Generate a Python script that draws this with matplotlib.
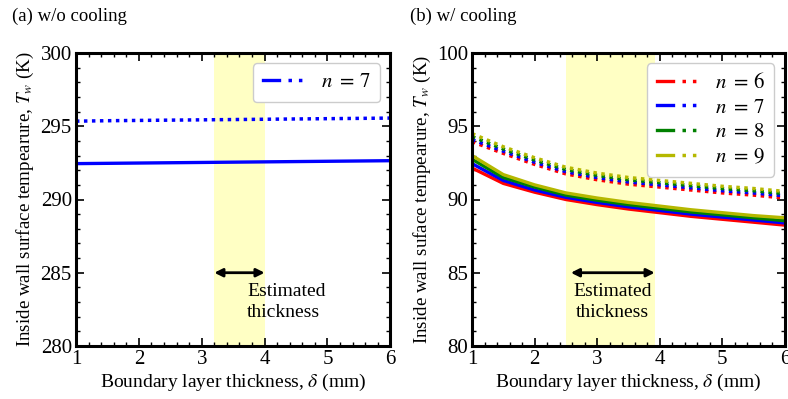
import numpy as np
import matplotlib.pyplot as plt
from matplotlib.lines import Line2D
from matplotlib.legend_handler import HandlerTuple
from matplotlib.ticker import MultipleLocator

plt.rcParams['font.family'] = ['Liberation Serif', 'DejaVu Serif']
plt.rcParams['mathtext.fontset'] = 'stix'
plt.rcParams['font.size'] = 13

# boundary layer thickness (mm)
delta = [1.0, 1.5, 2.0, 2.5, 3.0, 3.5, 4.0, 4.5, 5.0, 5.5, 6.0]

# (a) without cooling, n = 7
tw_a_solid = [292.45, 292.47, 292.49, 292.51, 292.53, 292.55, 292.57, 292.59, 292.61, 292.63, 292.65]
tw_a_dot = [295.35, 295.38, 295.40, 295.42, 295.44, 295.46, 295.48, 295.50, 295.52, 295.54, 295.56]

# (b) with cooling
n_values = [6, 7, 8, 9]
colors = ['red', 'blue', 'green', '#b5b800']
tw_b_solid = [
    [92.15, 91.10, 90.50, 90.00, 89.65, 89.35, 89.10, 88.85, 88.65, 88.45, 88.25],
    [92.45, 91.30, 90.65, 90.15, 89.80, 89.50, 89.25, 89.00, 88.80, 88.60, 88.40],
    [92.75, 91.50, 90.85, 90.30, 89.95, 89.65, 89.40, 89.15, 88.95, 88.75, 88.55],
    [93.00, 91.70, 91.00, 90.45, 90.10, 89.80, 89.55, 89.30, 89.10, 88.90, 88.75],
]
tw_b_dot = [
    [93.95, 93.15, 92.40, 91.75, 91.35, 91.05, 90.85, 90.65, 90.45, 90.30, 90.10],
    [94.10, 93.30, 92.55, 91.90, 91.50, 91.20, 91.00, 90.80, 90.60, 90.45, 90.25],
    [94.30, 93.45, 92.70, 92.05, 91.65, 91.35, 91.15, 90.95, 90.75, 90.60, 90.40],
    [94.50, 93.60, 92.85, 92.20, 91.80, 91.50, 91.30, 91.10, 90.90, 90.75, 90.55],
]

span_a = (3.2, 4.0)
span_b = (2.5, 3.92)

DOT = (0, (1, 1.3))


def style_axes(ax, ylo, yhi, ylabel):
    ax.set_xlim(1, 6)
    ax.set_ylim(ylo, yhi)
    ax.xaxis.set_major_locator(MultipleLocator(1))
    ax.xaxis.set_minor_locator(MultipleLocator(0.2))
    ax.yaxis.set_major_locator(MultipleLocator(5))
    ax.yaxis.set_minor_locator(MultipleLocator(1))
    ax.tick_params(which='both', direction='in', top=True, right=True, labelsize=15)
    ax.tick_params(which='major', length=6, width=1.2, pad=3)
    ax.tick_params(which='minor', length=3, width=1)
    for s in ax.spines.values():
        s.set_linewidth(2.2)
    ax.set_xlabel(r'Boundary layer thickness, $\delta$ (mm)', fontsize=14, labelpad=2)
    ax.set_ylabel(ylabel, fontsize=13.7, labelpad=3)


def add_legend(ax, cols, labels):
    hs = []
    for c in cols:
        hs.append((Line2D([], [], color=c, lw=2.4, ls='-'),
                   Line2D([], [], color=c, lw=2.5, ls=(0, (1, 2)))))
    leg = ax.legend(hs, labels, handler_map={tuple: HandlerTuple(ndivide=None, pad=0.4)},
                    loc='upper right', handlelength=2.0, fontsize=15,
                    labelspacing=0.25, handletextpad=0.8, borderpad=0.45,
                    edgecolor='#cccccc', fancybox=True, framealpha=1)
    leg.get_frame().set_linewidth(1.0)
    return leg


fig = plt.figure(figsize=(7.88, 3.99), dpi=100)
ax1 = fig.add_axes([0.0964, 0.133, 0.399, 0.734])
ax2 = fig.add_axes([0.599, 0.133, 0.397, 0.734])

# (a)
ax1.axvspan(*span_a, color='#ffffc4', zorder=0, lw=0)
ax1.plot(delta, tw_a_solid, color='blue', lw=2.4)
ax1.plot(delta, tw_a_dot, color='blue', lw=2.5, ls=DOT)
ax1.annotate('', xy=(span_a[0], 285), xytext=(span_a[1], 285),
             arrowprops=dict(arrowstyle='<|-|>', color='black', lw=2, mutation_scale=12,
                             shrinkA=0, shrinkB=0))
ax1.text(3.72, 283.0, 'Estimated\nthickness', fontsize=14, ha='left', va='center',
         linespacing=1.3)
style_axes(ax1, 280, 300, r'Inside wall surface tempearure, $T_w$ (K)')
add_legend(ax1, ['blue'], [r'$n\ =\,7$'])

# (b)
ax2.axvspan(*span_b, color='#ffffc4', zorder=0, lw=0)
for i in range(len(n_values)):
    ax2.plot(delta, tw_b_solid[i], color=colors[i], lw=2.4)
    ax2.plot(delta, tw_b_dot[i], color=colors[i], lw=2.5, ls=DOT)
ax2.annotate('', xy=(span_b[0] + 0.08, 85), xytext=(span_b[1], 85),
             arrowprops=dict(arrowstyle='<|-|>', color='black', lw=2, mutation_scale=12,
                             shrinkA=0, shrinkB=0))
ax2.text(3.24, 83.0, 'Estimated\nthickness', fontsize=14, ha='center', va='center',
         linespacing=1.3)
style_axes(ax2, 80, 100, r'Inside wall suface tempearure, $T_w$ (K)')
add_legend(ax2, colors, [r'$n\ =\,%d$' % n for n in n_values])

fig.text(0.015, 0.96, '(a) w/o cooling', fontsize=13.5, va='center', ha='left')
fig.text(0.52, 0.96, '(b) w/ cooling', fontsize=13.5, va='center', ha='left')

fig.savefig('out.png', dpi=100)
